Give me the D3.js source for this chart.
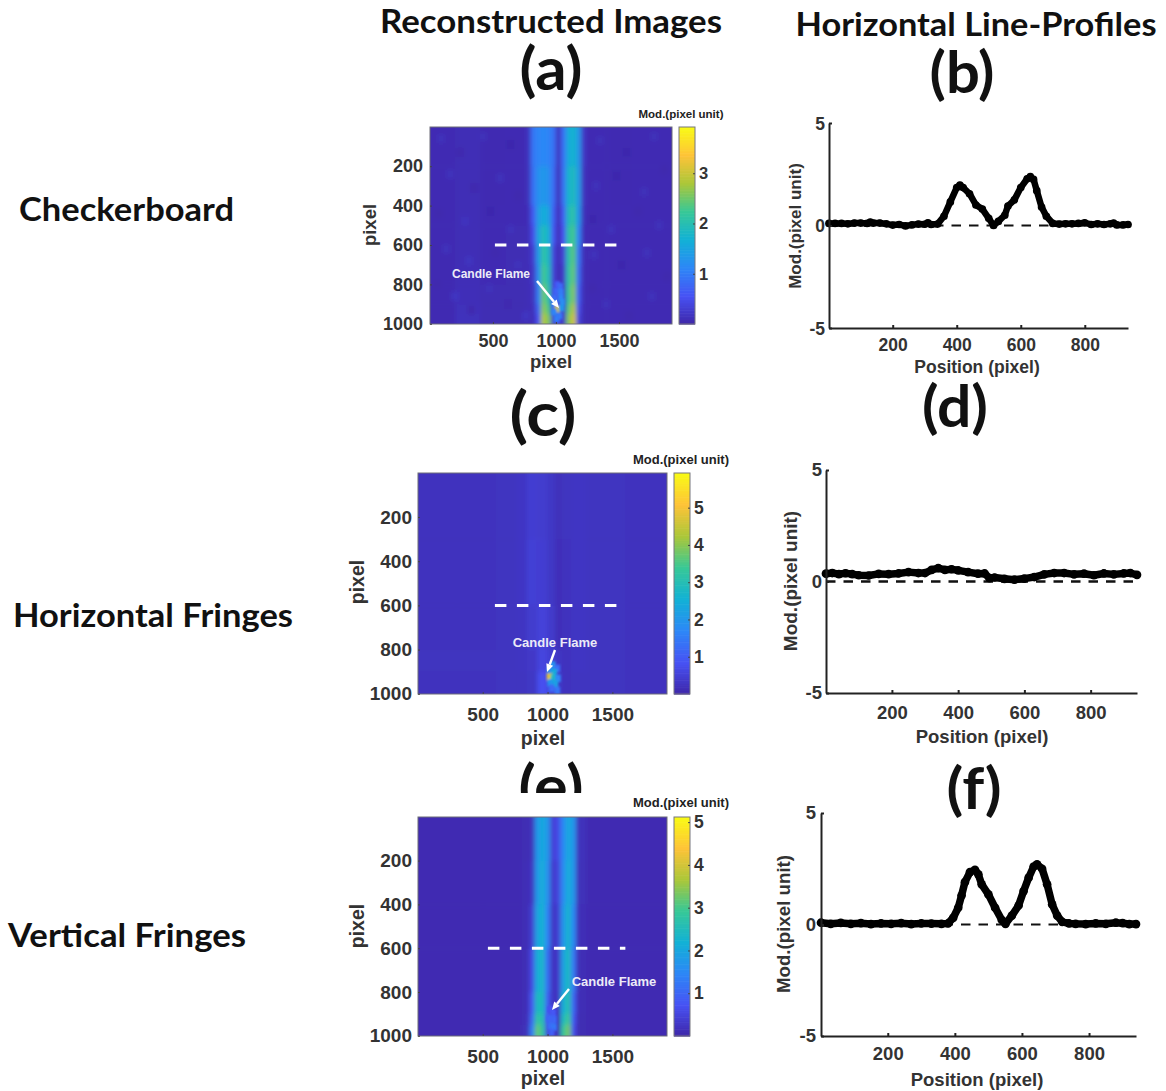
<!DOCTYPE html>
<html><head><meta charset="utf-8">
<script src="https://cdn.jsdelivr.net/npm/d3@7"></script>
<style>html,body{margin:0;background:#fff}svg{display:block}text{font-family:"Liberation Sans",Arial,sans-serif;font-weight:700}</style>
</head><body><svg id="c" width="1166" height="1091"></svg>
<script>
const parulaStops=[0,1/7,2/7,3/7,4/7,5/7,6/7,1];
const parulaColors=["#3e26a8","#4752f4","#2d87f7","#12b1d6","#37c897","#abc739","#fec338","#f9fb15"];
const imgXTicks=[500,1000,1500], imgYTicks=[200,400,600,800,1000], profXTicks=[200,400,600,800], profYTicks=[-5,0,5];

// Panel (a) heat cells
const colsA=[1,200,400,600,760,800,840,880,920,960,1000,1040,1080,1120,1160,1200,1240,1400,1600,1921];
const rowsA=[1,200,400,500,600,700,800,900,950,1001];
const cellsA=[
[.08,.10,.07,.08,.16,.95,1.10,1.15,1.10,.90,.16,.90,1.60,1.75,1.35,.22,.08,.07,.08],
[.08,.10,.07,.08,.14,.90,1.25,1.35,1.25,.85,.12,.90,1.75,1.90,1.40,.18,.08,.07,.08],
[.08,.10,.08,.08,.12,.65,1.40,1.65,1.50,.70,.12,.70,1.90,2.10,1.30,.14,.08,.08,.08],
[.08,.10,.08,.09,.11,.50,1.50,1.95,1.70,.60,.10,.55,2.05,2.30,1.10,.12,.08,.08,.08],
[.07,.10,.08,.09,.11,.30,1.35,2.15,1.85,.40,.09,.35,2.05,2.40,.90,.11,.08,.08,.08],
[.07,.11,.08,.09,.11,.22,1.20,2.30,1.95,.35,.09,.25,2.10,2.45,.80,.10,.08,.08,.08],
[.07,.12,.09,.09,.11,.16,1.00,2.50,2.10,.35,.35,.18,2.20,2.60,.65,.10,.08,.08,.08],
[.07,.14,.09,.09,.11,.14,.75,2.65,2.35,.30,.50,.18,2.40,2.85,.50,.10,.08,.08,.08],
[.07,.15,.09,.09,.11,.12,.55,2.85,2.60,.25,.45,.15,2.60,3.05,.40,.10,.08,.08,.08]];
const mottleA=[[90,60,.14],[240,130,.04],[420,50,.13],[640,90,.03],[1350,70,.13],[1560,130,.03],[1780,50,.13],[160,240,.15],[350,310,.04],[560,260,.14],[700,350,.04],[1320,300,.14],[1480,250,.03],[1700,330,.13],[1860,220,.04],[70,440,.04],[280,480,.17],[480,430,.03],[640,520,.14],[1290,470,.03],[1440,520,.14],[1650,430,.04],[1820,500,.14],[130,620,.15],[310,680,.18],[520,640,.04],[700,700,.15],[1300,650,.15],[1520,700,.03],[1720,640,.14],[60,800,.04],[200,860,.20],[330,930,.04],[470,820,.14],[620,900,.05],[760,960,.20],[1290,820,.04],[1400,900,.14],[1580,960,.04],[1760,860,.15],[1880,760,.04]];
const flameA=[[1010,800,.6],[1035,810,.8],[1000,835,.75],[1040,840,1.0],[990,870,.85],[1040,870,1.1],[985,900,1.0],[1050,890,1.2],[1012,925,3.1],[1045,920,1.3],[985,940,1.1],[1030,960,.95],[1005,975,1.0]];

// Panel (c) heat cells
const colsC=[1,300,600,760,840,920,1000,1060,1110,1180,1300,1600,1921];
const rowsC=[1,300,600,800,900,1001];
const cellsC=[
[.25,.25,.27,.31,.46,.42,.32,.20,.27,.30,.27,.25],
[.25,.25,.27,.31,.50,.46,.32,.18,.25,.30,.27,.25],
[.25,.25,.27,.29,.42,.55,.38,.18,.24,.30,.27,.25],
[.26,.26,.27,.29,.35,.60,.45,.30,.24,.30,.27,.25],
[.25,.25,.27,.27,.32,.80,.50,.35,.24,.27,.27,.25]];
const flameC=[[1040,870,1.9],[1075,885,1.3],[1015,895,1.8],[1050,905,2.4],[1015,925,4.8],[1045,930,2.8],[1080,930,1.7],[1020,950,2.0],[1060,955,2.2],[1030,975,1.2],[1075,985,1.4]];

// Panel (e) heat cells
const colsE=[1,500,800,860,900,940,980,1020,1060,1100,1140,1180,1220,1300,1921];
const rowsE=[1,200,400,600,800,900,950,1001];
const cellsE=[
[.10,.10,.12,.18,1.75,2.05,1.75,.45,.60,1.50,2.05,1.70,.18,.10],
[.10,.10,.13,.25,1.80,2.15,1.65,.35,.50,1.55,2.15,1.70,.16,.10],
[.10,.10,.13,.40,1.95,2.25,1.45,.28,.40,1.70,2.30,1.50,.14,.10],
[.10,.10,.13,.60,2.15,2.35,1.15,.22,.32,1.90,2.45,1.25,.13,.10],
[.10,.10,.14,.80,2.45,2.45,.90,.25,.25,2.15,2.65,1.00,.13,.10],
[.10,.10,.15,1.05,2.80,2.60,.65,.30,.20,2.45,2.95,.80,.12,.10],
[.10,.10,.16,1.35,3.20,2.80,.50,.35,.16,2.85,3.30,.65,.11,.10]];
const flameE=[[1020,880,.7],[1045,895,.8],[1010,920,1.0],[1050,925,1.0],[1020,955,1.1],[1050,960,1.2],[1030,985,.9]];

// Line profiles
const posB=[1,20,40,60,80,100,120,130,140,160,180,200,220,240,260,280,300,310,320,340,360,380,400,410,420,440,460,480,500,515,530,550,560,580,600,620,630,640,650,665,680,700,720,740,760,780,800,820,840,860,880,890,900,920,935];
const valB=[.1,.1,.1,.08,.12,.12,.1,.17,.12,.12,.08,.02,.05,-.02,.03,.07,.06,.13,.05,.07,.45,1.15,1.85,1.97,1.85,1.55,1.0,.8,.35,.0,.2,.5,.95,1.25,1.85,2.28,2.38,2.25,1.7,.9,.45,.1,.07,.08,.08,.1,.13,.05,.08,.05,.08,.12,.03,.03,.05];
const posD=[1,20,40,60,80,100,130,160,190,220,250,280,300,320,340,360,380,400,430,460,480,495,510,540,570,600,630,660,690,720,750,780,810,840,870,900,920,940];
const valD=[.35,.38,.33,.37,.33,.28,.27,.34,.33,.36,.42,.38,.38,.52,.6,.52,.55,.5,.42,.35,.36,.15,.18,.12,.08,.13,.2,.32,.38,.38,.32,.35,.28,.36,.32,.36,.38,.3];
const posF=[1,30,60,90,120,150,180,210,240,270,300,330,360,380,395,410,420,430,445,460,470,480,500,520,540,551,570,590,605,620,635,645,660,675,690,705,720,740,760,790,820,850,880,900,920,940];
const valF=[.08,.03,.07,.03,.06,.02,.05,.03,.06,.02,.05,.04,.03,.05,.3,.75,1.3,1.9,2.35,2.45,2.25,1.8,1.35,.75,.2,.03,.4,.85,1.5,2.1,2.6,2.7,2.5,1.8,.9,.4,.12,.05,.03,.02,.05,.03,.08,.06,.02,.02];

const titles=[["Reconstructed Images",551,33,33,342],["Horizontal Line-Profiles",976,36,33,361],["(a)",551,90,60,63],["(b)",962,93,58,65],["(c)",543,436,62,67],["(d)",955,427,58,66],["(e)",551,808,60,65],["(f)",974,809,58,55]];
const sideLabels=[["Checkerboard",19,221,33,215],["Horizontal Fringes",13,627,33,280],["Vertical Fringes",8,947,33,238]];

const svg=d3.select("#c");
const defs=svg.append("defs");
defs.append("filter").attr("id","soft").attr("x","-10%").attr("y","-10%").attr("width","120%").attr("height","120%")
 .attr("filterUnits","objectBoundingBox").append("feGaussianBlur").attr("stdDeviation","1.9 2.6");
defs.append("filter").attr("id","softer").append("feGaussianBlur").attr("stdDeviation",".8");
defs.append("clipPath").attr("id","eclip").append("rect").attr("x",480).attr("y",740).attr("width",150).attr("height",53);
const tc="#333";
const plain=d=>String(d);

function heat(o){
 const x=d3.scaleLinear().domain([1,1921]).range([o.x0,o.x1]);
 const y=d3.scaleLinear().domain([1,1001]).range([o.y0,o.y1]);
 const col=d3.scaleLinear().domain(parulaStops.map(s=>s*o.max)).range(parulaColors).clamp(true);
 const id="clip"+o.id;
 defs.append("clipPath").attr("id",id).append("rect").attr("x",o.x0).attr("y",o.y0).attr("width",o.x1-o.x0).attr("height",o.y1-o.y0);
 const g=svg.append("g").attr("clip-path",`url(#${id})`);
 g.append("rect").attr("x",o.x0).attr("y",o.y0).attr("width",o.x1-o.x0).attr("height",o.y1-o.y0).attr("fill",col(o.cells[0][0]));
 const b=g.append("g").attr("filter","url(#soft)");
 const pad=16;
 o.cells.forEach((row,r)=>row.forEach((v,c)=>{
  const L=x(o.cols[c])-(c==0?pad:0),R=x(o.cols[c+1])+(c==row.length-1?pad:0);
  const T=y(o.rows[r])-(r==0?pad:0),B=y(o.rows[r+1])+(r==o.cells.length-1?pad:0);
  b.append("rect").attr("x",L).attr("y",T).attr("width",R-L+.5).attr("height",B-T+.5).attr("fill",col(v));
 }));
 (o.mottle||[]).forEach(m=>b.append("rect").attr("x",x(m[0]-30)).attr("y",y(m[1]-22)).attr("width",x(60)-x(0)).attr("height",y(44)-y(0)).attr("fill",col(m[2])));
 const fg=g.append("g").attr("filter","url(#softer)");
 o.flame.forEach(m=>fg.append("rect").attr("x",x(m[0]-22)).attr("y",y(m[1]-17)).attr("width",x(44)-x(0)).attr("height",y(34)-y(0)).attr("fill",col(m[2])));
 svg.append("line").attr("x1",x(o.dash[0])).attr("x2",x(o.dash[1])).attr("y1",y(600)).attr("y2",y(600)).attr("stroke","#fff").attr("stroke-width",3).attr("stroke-dasharray","11.5 10.5");
 svg.append("rect").attr("x",o.x0).attr("y",o.y0).attr("width",o.x1-o.x0).attr("height",o.y1-o.y0).attr("fill","none").attr("stroke","#6d6d78").attr("stroke-width",1);
 const ax=svg.append("g").attr("transform",`translate(0,${o.y1})`).call(d3.axisBottom(x).tickValues(imgXTicks).tickFormat(plain).tickSize(-2).tickSizeOuter(0).tickPadding(o.xPad));
 const ay=svg.append("g").attr("transform",`translate(${o.x0},0)`).call(d3.axisLeft(y).tickValues(imgYTicks).tickFormat(plain).tickSize(-2).tickSizeOuter(0).tickPadding(o.yPad));
 [ax,ay].forEach(a=>{a.select(".domain").remove();a.selectAll("line").attr("stroke","#444");a.selectAll("text").attr("fill",tc).attr("font-size",o.fs)});
 svg.append("text").attr("x",o.xl[0]).attr("y",o.xl[1]).attr("text-anchor","middle").attr("font-size",o.fs+.5).attr("fill",tc).text("pixel");
 svg.append("text").attr("transform",`translate(${o.yl[0]},${o.yl[1]}) rotate(-90)`).attr("text-anchor","middle").attr("font-size",o.fs+.5).attr("fill",tc).text("pixel");
 const cy=d3.scaleLinear().domain([o.vmin,o.max]).range([o.y1,o.y0]);
 const steps=d3.range(0,128);
 svg.append("g").selectAll("rect").data(steps).join("rect")
  .attr("x",o.bx0).attr("width",o.bx1-o.bx0)
  .attr("y",i=>cy(o.vmin+(o.max-o.vmin)*(i+1)/128)).attr("height",i=>cy(o.vmin+(o.max-o.vmin)*i/128)-cy(o.vmin+(o.max-o.vmin)*(i+1)/128)+.6)
  .attr("fill",i=>col(o.vmin+(o.max-o.vmin)*(i+.5)/128));
 svg.append("rect").attr("x",o.bx0).attr("y",o.y0).attr("width",o.bx1-o.bx0).attr("height",o.y1-o.y0).attr("fill","none").attr("stroke","#77777f").attr("stroke-width",1);
 const ac=svg.append("g").attr("transform",`translate(${o.bx1},0)`).call(d3.axisRight(cy).tickValues(o.barTicks).tickFormat(plain).tickSize(-2).tickSizeOuter(0).tickPadding(4));
 ac.select(".domain").remove();ac.selectAll("line").attr("stroke","#444");
 ac.selectAll("text").attr("fill",tc).attr("font-size",o.fs-1.5);
 svg.append("text").attr("x",o.bt[0]).attr("y",o.bt[1]).attr("text-anchor","middle").attr("font-size",o.bt[2]).attr("fill","#222").text("Mod.(pixel unit)");
 const n=o.note;
 svg.append("text").attr("x",n.t[0]).attr("y",n.t[1]).attr("text-anchor","middle").attr("font-size",n.t[2]).attr("fill","#ecebf7").text("Candle Flame");
 const [ax0,ay0,ax1,ay1]=n.a, ang=Math.atan2(ay1-ay0,ax1-ax0), hl=8, hw=3.6;
 const bx=ax1-hl*Math.cos(ang), by=ay1-hl*Math.sin(ang);
 svg.append("line").attr("x1",ax0).attr("y1",ay0).attr("x2",bx).attr("y2",by).attr("stroke","#fff").attr("stroke-width",2.4);
 svg.append("path").attr("fill","#fff").attr("d",`M${ax1},${ay1}L${bx-hw*Math.sin(ang)},${by+hw*Math.cos(ang)}L${bx+hw*Math.sin(ang)},${by-hw*Math.cos(ang)}Z`);
}

function prof(o){
 const x=d3.scaleLinear().domain([1,o.xEnd]).range([o.x0,o.x1]);
 const y=d3.scaleLinear().domain([-5,5]).range([o.y1,o.y0]);
 svg.append("line").attr("x1",o.x0).attr("x2",o.x1).attr("y1",y(0)).attr("y2",y(0)).attr("stroke","#111").attr("stroke-width",o.dw).attr("stroke-dasharray","9.5 8");
 const line=d3.line().x((d,i)=>x(o.pos[i])).y(d=>y(d)).curve(d3.curveLinear);
 svg.append("path").attr("d",line(o.val)).attr("fill","none").attr("stroke","#000").attr("stroke-width",o.lw).attr("stroke-linejoin","round").attr("stroke-linecap","round");
 svg.append("g").selectAll("circle").data(o.val).join("circle").attr("cx",(d,i)=>x(o.pos[i])).attr("cy",d=>y(d)).attr("r",o.lw/2+.6).attr("fill","#000");
 const ax=svg.append("g").attr("transform",`translate(0,${o.y1})`).call(d3.axisBottom(x).tickValues(profXTicks).tickFormat(plain).tickSize(-3).tickSizeOuter(0).tickPadding(o.xPad));
 const ay=svg.append("g").attr("transform",`translate(${o.x0},0)`).call(d3.axisLeft(y).tickValues(profYTicks).tickFormat(plain).tickSize(-3).tickSizeOuter(0).tickPadding(o.yPad));
 [ax,ay].forEach(a=>{a.select(".domain").attr("stroke","#222").attr("stroke-width",2);a.selectAll("line").attr("stroke","#222").attr("stroke-width",2);a.selectAll("text").attr("fill",tc).attr("font-size",o.fs)});
 ay.selectAll("text").attr("dy",o.yDy);
 svg.append("text").attr("x",o.xl[0]).attr("y",o.xl[1]).attr("text-anchor","middle").attr("font-size",o.fs).attr("fill",tc).text("Position (pixel)");
 svg.append("text").attr("transform",`translate(${o.yl[0]},${o.yl[1]}) rotate(-90)`).attr("text-anchor","middle").attr("font-size",o.yl[2]).attr("fill",tc).text("Mod.(pixel unit)");
}

heat({id:"a",x0:430,x1:672,y0:127,y1:324,bx0:679,bx1:695,max:3.92,vmin:0,barTicks:[1,2,3],cols:colsA,rows:rowsA,cells:cellsA,mottle:mottleA,flame:flameA,dash:[516,1492],fs:18,xPad:10,yPad:7,xl:[551,368],yl:[376,225],bt:[681,118,11.5],note:{t:[491,278,12],a:[537,281,559,308]}});
heat({id:"c",x0:418,x1:667,y0:473,y1:694,bx0:674,bx1:690,max:5.93,vmin:0,barTicks:[1,2,3,4,5],cols:colsC,rows:rowsC,cells:cellsC,flame:flameC,dash:[594,1535],fs:19,xPad:14,yPad:6,xl:[543,745],yl:[364,582],bt:[681,464,13],note:{t:[555,647,13],a:[555,650,547,672]}});
heat({id:"e",x0:418,x1:667,y0:817,y1:1036,bx0:674,bx1:690,max:5.12,vmin:0,barTicks:[1,2,3,4,5],cols:colsE,rows:rowsE,cells:cellsE,flame:flameE,dash:[540,1600],fs:19,xPad:14,yPad:6,xl:[543,1085],yl:[364,926],bt:[681,807,13],note:{t:[614,986,13],a:[569,989,552,1010]}});

prof({x0:829,x1:1128,y0:123,y1:328,xEnd:935,pos:posB,val:valB,lw:6.5,dw:2,fs:17.5,xPad:11,yPad:4,yDy:"0.36em",xl:[977,373],yl:[801,226,17]});
prof({x0:826,x1:1137,y0:470,y1:693,xEnd:940,pos:posD,val:valD,lw:7.5,dw:2.5,fs:18.5,xPad:13,yPad:4,yDy:"0.32em",xl:[982,743],yl:[797,581,19]});
prof({x0:821,x1:1136,y0:813,y1:1036,xEnd:940,pos:posF,val:valF,lw:7.5,dw:2,fs:18.5,xPad:11,yPad:5,yDy:"0.32em",xl:[977,1086],yl:[790,924,18.7]});

titles.forEach(t=>{
 const e=svg.append("text").attr("x",t[1]).attr("y",t[2]).attr("text-anchor","middle").attr("font-size",t[3]).attr("textLength",t[4]).attr("lengthAdjust","spacingAndGlyphs").attr("fill","#111").style("font-family","Lato").text(t[0]);
 if(t[0]=="(e)") e.attr("clip-path","url(#eclip)");
});
sideLabels.forEach(t=>svg.append("text").attr("x",t[1]).attr("y",t[2]).attr("font-size",t[3]).attr("textLength",t[4]).attr("lengthAdjust","spacingAndGlyphs").attr("fill","#111").style("font-family","Lato").text(t[0]));
</script></body></html>
